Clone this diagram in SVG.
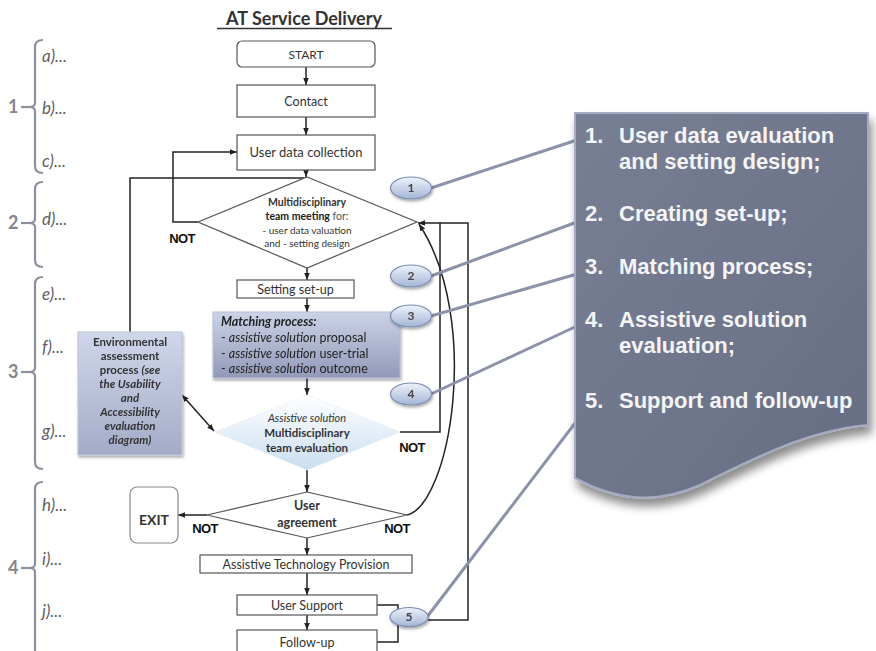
<svg xmlns="http://www.w3.org/2000/svg" width="876" height="651" viewBox="0 0 876 651">
  <defs>
    <marker id="arr" viewBox="0 0 10 10" refX="10" refY="5" markerWidth="7" markerHeight="7" markerUnits="userSpaceOnUse" orient="auto-start-reverse">
      <path d="M0,1 L10,5 L0,9 Z" fill="#222"/>
    </marker>
    <linearGradient id="gBlue" x1="0" y1="0" x2="0" y2="1">
      <stop offset="0" stop-color="#ccd2e7"/>
      <stop offset="1" stop-color="#9299b8"/>
    </linearGradient>
    <linearGradient id="gEnv" x1="0" y1="0" x2="0" y2="1">
      <stop offset="0" stop-color="#d0d6ea"/>
      <stop offset="1" stop-color="#a3abc7"/>
    </linearGradient>
    <linearGradient id="gDiam" x1="0" y1="0" x2="0" y2="1">
      <stop offset="0" stop-color="#ffffff"/>
      <stop offset="1" stop-color="#c9def0"/>
    </linearGradient>
    <linearGradient id="gOval" x1="0" y1="0" x2="0" y2="1">
      <stop offset="0" stop-color="#eef2fa"/>
      <stop offset="1" stop-color="#a4b5d6"/>
    </linearGradient>
    <linearGradient id="gPanel" x1="0" y1="0" x2="1" y2="1">
      <stop offset="0" stop-color="#787f94"/>
      <stop offset="1" stop-color="#676e83"/>
    </linearGradient>
    <filter id="shadow" x="-10%" y="-10%" width="130%" height="130%">
      <feGaussianBlur in="SourceAlpha" stdDeviation="5"/>
      <feOffset dx="3" dy="8" result="b"/>
      <feComponentTransfer><feFuncA type="linear" slope="0.45"/></feComponentTransfer>
      <feMerge><feMergeNode/><feMergeNode in="SourceGraphic"/></feMerge>
    </filter>
    <filter id="soft" x="-20%" y="-20%" width="140%" height="160%">
      <feGaussianBlur in="SourceAlpha" stdDeviation="1.5"/>
      <feOffset dx="1" dy="2"/>
      <feComponentTransfer><feFuncA type="linear" slope="0.35"/></feComponentTransfer>
      <feMerge><feMergeNode/><feMergeNode in="SourceGraphic"/></feMerge>
    </filter>
  </defs>
  <style>
    .box { fill: #fff; stroke: #555; stroke-width: 1.2; }
    .t { font-family: Lato, "Liberation Sans", sans-serif; fill: #333; text-anchor: middle; }
    .wire { fill: none; stroke: #222; stroke-width: 1.5; }
    .not { font-family: "Liberation Sans", Arial, sans-serif; font-weight: bold; font-size: 13px; fill: #111; text-anchor: middle; letter-spacing: -0.6px; }
    .brace { fill: none; stroke: #8d8f9c; stroke-width: 2.2; }
    .step { font-family: Lato, "Liberation Sans", sans-serif; font-style: italic; font-size: 17px; fill: #5e5e66; }
    .phase { font-family: Lato, "Liberation Sans", sans-serif; font-weight: bold; font-size: 18px; fill: #84858f; }
    .oval { fill: url(#gOval); stroke: #7c8db3; stroke-width: 1.2; }
    .ovalnum { font-family: Lato, "Liberation Sans", sans-serif; font-size: 12px; font-weight: bold; fill: #444; text-anchor: middle; }
    .lead { stroke: #8c93a8; stroke-width: 3; fill: none; stroke-linecap: round; }
    .ptext { font-family: "Liberation Sans", Arial, sans-serif; font-weight: bold; font-size: 22px; fill: #f4f4f7; }
  </style>

  <!-- title -->
  <text x="304" y="25" class="t" font-weight="bold" font-size="18" fill="#222">AT Service Delivery</text>
  <line x1="217" y1="28.5" x2="392" y2="28.5" stroke="#333" stroke-width="1.3"/>

  <!-- phase braces and step letters -->
  <g id="phases">
    <path class="brace" d="M43,40 Q35,40 35,47 L35,103 Q35,107 29,107 Q35,107 35,111 L35,166 Q35,173 43,173"/>
    <path class="brace" d="M43,182 Q35,182 35,189 L35,219 Q35,223 29,223 Q35,223 35,227 L35,260 Q35,267 43,267"/>
    <path class="brace" d="M43,277 Q35,277 35,284 L35,368 Q35,372 29,372 Q35,372 35,376 L35,462 Q35,469 43,469"/>
    <path class="brace" d="M43,482 Q35,482 35,489 L35,564 Q35,568 29,568 Q35,568 35,572 L35,660"/>
    <text class="phase" x="8" y="113">1</text>
    <line x1="21" y1="107" x2="29" y2="107" class="brace"/>
    <text class="phase" x="8" y="229">2</text>
    <line x1="21" y1="223" x2="29" y2="223" class="brace"/>
    <text class="phase" x="8" y="378">3</text>
    <line x1="21" y1="372" x2="29" y2="372" class="brace"/>
    <text class="phase" x="8" y="574">4</text>
    <line x1="21" y1="568" x2="29" y2="568" class="brace"/>
    <text class="step" x="42" y="62">a)...</text>
    <text class="step" x="42" y="114">b)...</text>
    <text class="step" x="42" y="167">c)...</text>
    <text class="step" x="42" y="225">d)...</text>
    <text class="step" x="42" y="300">e)...</text>
    <text class="step" x="42" y="353">f)...</text>
    <text class="step" x="42" y="437">g)...</text>
    <text class="step" x="42" y="511">h)...</text>
    <text class="step" x="42" y="565">i)...</text>
    <text class="step" x="42" y="617">j)...</text>
  </g>

  <!-- connectors -->
  <g id="connectors">
    <path class="wire" d="M306,67 V85" marker-end="url(#arr)"/>
    <path class="wire" d="M306,117 V135" marker-end="url(#arr)"/>
    <path class="wire" d="M306,170 V177" marker-end="url(#arr)"/>
    <path class="wire" d="M130,332 V178 H304"/>
    <path class="wire" d="M198,222 H173 V152 H237" marker-end="url(#arr)"/>
    <path class="wire" d="M307,268 V280" marker-end="url(#arr)"/>
    <path class="wire" d="M307,298 V312" marker-end="url(#arr)"/>
    <path class="wire" d="M307,378 V395" marker-end="url(#arr)"/>
    <path class="wire" d="M307,470 V492" marker-end="url(#arr)"/>
    <path class="wire" d="M307,538 V555" marker-end="url(#arr)"/>
    <path class="wire" d="M307,573 V595" marker-end="url(#arr)"/>
    <path class="wire" d="M307,615 V630" marker-end="url(#arr)"/>
    <path class="wire" d="M207,515 H178" marker-end="url(#arr)"/>
    <path class="wire" d="M400,432 H440 V223 H418" marker-end="url(#arr)"/>
    <path class="wire" d="M428,620 H468 V223 H440"/>
    <path class="wire" d="M377,605 H398 V612"/>
    <path class="wire" d="M377,642 H398 V624"/>
    <path class="wire" stroke-width="1.3" d="M407,515 C450,505 482,320 419,224" marker-end="url(#arr)"/>
    <path class="wire" d="M182,395 L214,431" marker-start="url(#arr)" marker-end="url(#arr)"/>
  </g>

  <!-- flowchart nodes -->
  <g id="start">
    <rect class="box" x="237" y="41" width="138" height="26" rx="5"/>
    <text class="t" x="306" y="58.5" font-size="12">START</text>
  </g>
  <g id="contact">
    <rect class="box" x="237" y="85" width="138" height="32"/>
    <text class="t" x="306" y="106" font-size="12.5">Contact</text>
  </g>
  <g id="user-data-collection">
    <rect class="box" x="237" y="135" width="138" height="35"/>
    <text class="t" x="306" y="157" font-size="13">User data collection</text>
  </g>
  <g id="team-meeting">
    <polygon class="box" points="307,177 417,222 307,268 198,222"/>
    <text class="t" x="307" y="206" font-size="10.5" font-weight="bold" fill="#222">Multidisciplinary</text>
    <text class="t" x="307" y="220" font-size="10.5"><tspan font-weight="bold" fill="#222">team meeting</tspan><tspan fill="#555"> for:</tspan></text>
    <text class="t" x="307" y="234" font-size="10" fill="#666">- user data valuation</text>
    <text class="t" x="307" y="247" font-size="10" fill="#666">and - setting design</text>
    <text class="not" x="182" y="243">NOT</text>
  </g>
  <g id="setting-set-up">
    <rect class="box" x="237" y="280" width="117" height="18"/>
    <text class="t" x="295.5" y="294" font-size="12.5">Setting set-up</text>
  </g>
  <g id="matching-process" filter="url(#soft)">
    <rect x="213" y="312" width="187" height="66" fill="url(#gBlue)" stroke="#b8bfd6" stroke-width="1"/>
    <text x="221" y="326" font-family="Lato, 'Liberation Sans', sans-serif" font-size="12.5" fill="#222" font-weight="bold" font-style="italic">Matching process:</text>
    <text x="221" y="342" font-family="Lato, 'Liberation Sans', sans-serif" font-size="12.5" fill="#222">- <tspan font-style="italic">assistive solution</tspan> proposal</text>
    <text x="221" y="358" font-family="Lato, 'Liberation Sans', sans-serif" font-size="12.5" fill="#222">- <tspan font-style="italic">assistive solution</tspan> user-trial</text>
    <text x="221" y="373" font-family="Lato, 'Liberation Sans', sans-serif" font-size="12.5" fill="#222">- <tspan font-style="italic">assistive solution</tspan> outcome</text>
  </g>
  <g id="environmental-assessment" filter="url(#soft)">
    <rect x="78" y="332" width="104" height="123" fill="url(#gEnv)" stroke="#bcc3da" stroke-width="1"/>
    <g font-family="Lato, 'Liberation Sans', sans-serif" font-size="11.5" font-weight="bold" fill="#333" text-anchor="middle">
      <text x="130" y="346">Environmental</text>
      <text x="130" y="360">assessment</text>
      <text x="130" y="374">process <tspan font-style="italic">(see</tspan></text>
      <text x="130" y="388" font-style="italic">the Usability</text>
      <text x="130" y="402" font-style="italic">and</text>
      <text x="130" y="416" font-style="italic">Accessibility</text>
      <text x="130" y="430" font-style="italic">evaluation</text>
      <text x="130" y="444" font-style="italic">diagram)</text>
    </g>
  </g>
  <g id="team-evaluation">
    <polygon points="307,395 400,432 307,470 215,432" fill="url(#gDiam)" stroke="#e4ecf5" stroke-width="1" stroke-dasharray="2 2"/>
    <text class="t" x="307" y="422" font-size="11" font-style="italic" fill="#7b88a8">Assistive solution</text>
    <text class="t" x="307" y="437" font-size="11.5" font-weight="bold" fill="#333">Multidisciplinary</text>
    <text class="t" x="307" y="452" font-size="11.5" font-weight="bold" fill="#333">team evaluation</text>
    <text class="not" x="412" y="452">NOT</text>
  </g>
  <g id="user-agreement">
    <polygon class="box" points="307,492 407,515 307,538 207,515"/>
    <text class="t" x="307" y="510" font-size="12.5" font-weight="bold" fill="#444">User</text>
    <text class="t" x="307" y="527" font-size="12.5" font-weight="bold" fill="#444">agreement</text>
    <text class="not" x="205" y="533">NOT</text>
    <text class="not" x="397" y="533">NOT</text>
  </g>
  <g id="exit">
    <rect x="130" y="487" width="48" height="56" rx="7" fill="#fff" stroke="#888" stroke-width="1.2"/>
    <text class="t" x="154" y="525" font-size="14" font-weight="bold" fill="#8a8a8a">EXIT</text>
  </g>
  <g id="at-provision">
    <rect class="box" x="200" y="555" width="212" height="18"/>
    <text class="t" x="306" y="569" font-size="12.5">Assistive Technology Provision</text>
  </g>
  <g id="user-support">
    <rect class="box" x="237" y="595" width="140" height="20"/>
    <text class="t" x="307" y="610" font-size="12.5">User Support</text>
  </g>
  <g id="follow-up">
    <rect class="box" x="237" y="630" width="140" height="30"/>
    <text class="t" x="307" y="647" font-size="12.5">Follow-up</text>
  </g>

  <!-- numbered callouts and their leader lines -->
  <g id="callouts">
    <path class="lead" d="M431,188 L577,140"/>
    <path class="lead" d="M431,276 L577,222"/>
    <path class="lead" d="M431,316 L577,274"/>
    <path class="lead" d="M431,394 L577,326"/>
    <path class="lead" d="M427,617 L585,410"/>
    <g id="oval-1" filter="url(#soft)"><ellipse class="oval" cx="411" cy="188" rx="20.5" ry="11"/><text class="ovalnum" x="411" y="192">1</text></g>
    <g id="oval-2" filter="url(#soft)"><ellipse class="oval" cx="411" cy="276" rx="20.5" ry="11"/><text class="ovalnum" x="411" y="280">2</text></g>
    <g id="oval-3" filter="url(#soft)"><ellipse class="oval" cx="411" cy="316" rx="20.5" ry="11"/><text class="ovalnum" x="411" y="320">3</text></g>
    <g id="oval-4" filter="url(#soft)"><ellipse class="oval" cx="411" cy="394" rx="20.5" ry="11"/><text class="ovalnum" x="411" y="398">4</text></g>
    <g id="oval-5" filter="url(#soft)"><ellipse class="oval" cx="409" cy="617" rx="19" ry="9.5"/><text class="ovalnum" x="409" y="621">5</text></g>
  </g>

  <!-- summary panel -->
  <g id="summary">
    <path d="M575,113 H868 V425 C810,430 760,455 700,485 C655,505 615,500 575,478 Z" fill="url(#gPanel)" stroke="#a4abc2" stroke-width="2" filter="url(#shadow)"/>
    <text class="ptext" x="585" y="143">1.</text>
    <text class="ptext" x="619" y="143">User data evaluation</text>
    <text class="ptext" x="619" y="169">and setting design;</text>
    <text class="ptext" x="585" y="221">2.</text>
    <text class="ptext" x="619" y="221">Creating set-up;</text>
    <text class="ptext" x="585" y="274">3.</text>
    <text class="ptext" x="619" y="274">Matching process;</text>
    <text class="ptext" x="585" y="327">4.</text>
    <text class="ptext" x="619" y="327">Assistive solution</text>
    <text class="ptext" x="619" y="353">evaluation;</text>
    <text class="ptext" x="585" y="408">5.</text>
    <text class="ptext" x="619" y="408">Support and follow-up</text>
  </g>
</svg>
